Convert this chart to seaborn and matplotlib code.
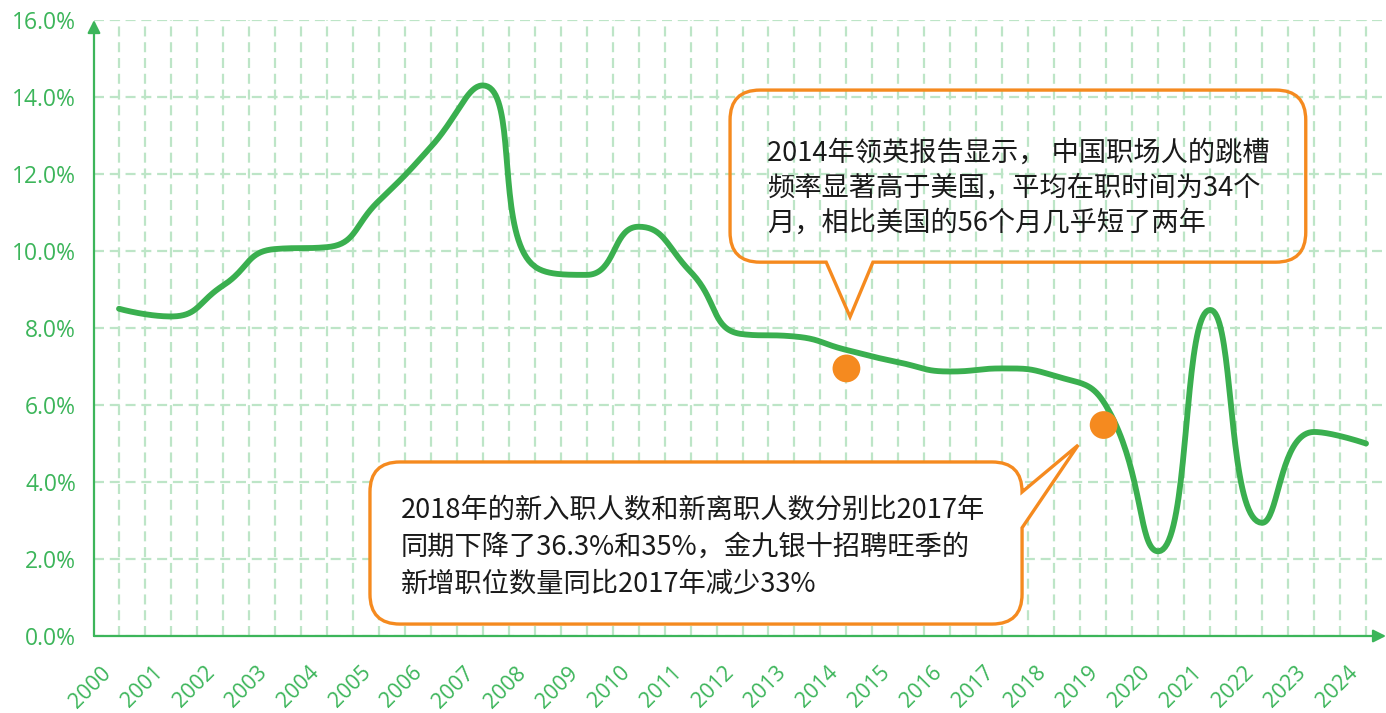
import numpy as np
import pandas as pd
import matplotlib
matplotlib.use("Agg")
import matplotlib.pyplot as plt
from matplotlib.path import Path
from matplotlib.patches import PathPatch
from matplotlib.transforms import ScaledTranslation
from matplotlib.ticker import FixedLocator
import seaborn as sns

# ---- data -------------------------------------------------------------
years = list(range(2000, 2025))
turnover_rate = [8.5, 8.3, 9.1, 10.05, 10.1, 11.3, 12.7, 14.3, 9.6, 9.38,
                 10.63, 9.46, 7.84, 7.78, 7.43, 7.11, 6.87, 6.95, 6.76, 5.97,
                 2.2, 8.47, 2.94, 5.3, 5.0]
highlight_x = [2014.0, 2018.95]
highlight_y = [6.95, 5.48]
y_ticks = [0, 2, 4, 6, 8, 10, 12, 14, 16]
y_tick_labels = ["0.0%", "2.0%", "4.0%", "6.0%", "8.0%", "10.0%", "12.0%", "14.0%", "16.0%"]

note_2014 = ["2014年领英报告显示， 中国职场人的跳槽",
             "频率显著高于美国，平均在职时间为34个",
             "月，相比美国的56个月几乎短了两年"]
note_2018 = ["2018年的新入职人数和新离职人数分别比2017年",
             "同期下降了36.3%和35%，金九银十招聘旺季的",
             "新增职位数量同比2017年减少33%"]

# ---- style ------------------------------------------------------------
GREEN_AXIS = "#3cb55a"
GREEN_LINE = "#3aaf4f"
GRID = "#bde5c7"
ORANGE = "#f58a1f"
TEXT = "#1a1a1a"

sns.set_theme(style="white")
plt.rcParams["font.family"] = ["Open Sans", "Noto Sans CJK SC", "DejaVu Sans"]
CJK = ["Noto Sans CJK SC", "DejaVu Sans"]

W, H = 1386, 713
fig = plt.figure(figsize=(W / 100, H / 100), dpi=100)
ax = fig.add_axes([94 / W, 77 / H, (1385 - 94) / W, 616 / H])
ax.set_xlim(1999.519, 2000 + (1385 - 119) / 51.96)
ax.set_ylim(0, 16)
for s in ax.spines.values():
    s.set_visible(False)

# grid: half-year vertical lines, 2% horizontal lines
ax.xaxis.set_major_locator(FixedLocator(years))
ax.xaxis.set_minor_locator(FixedLocator([y + 0.5 for y in years[:-1]]))
ax.set_yticks(y_ticks)
ax.set_yticklabels(y_tick_labels)
ax.set_xticklabels([str(y) for y in years])
grid_kw = dict(color=GRID, linewidth=1.6, linestyle=(0, (4.5, 2.6)))
ax.grid(True, which="both", axis="x", **grid_kw)
ax.grid(True, which="major", axis="y", **grid_kw)
ax.set_axisbelow(True)

ax.tick_params(axis="both", which="both", length=0)
ax.tick_params(axis="y", pad=13, labelsize=16.5, labelcolor=GREEN_AXIS)
ax.tick_params(axis="x", pad=19, labelsize=15.5, labelcolor=GREEN_AXIS)
shift = ScaledTranslation(-4 / 100, 0, fig.dpi_scale_trans)
for lab in ax.get_xticklabels():
    lab.set_rotation(45)
    lab.set_ha("right")
    lab.set_va("top")
    lab.set_transform(lab.get_transform() + shift)

# axis lines with arrow heads
arrow_kw = dict(arrowstyle="-|>", color=GREEN_AXIS, lw=1.6, mutation_scale=19,
                shrinkA=0, shrinkB=0)
ax.annotate("", xy=(0, 1), xytext=(0, 0), xycoords="axes fraction",
            arrowprops=arrow_kw, annotation_clip=False)
ax.annotate("", xy=(1.0008, 0), xytext=(0, 0), xycoords="axes fraction",
            arrowprops=arrow_kw, annotation_clip=False)

# ---- smoothed line: bezier smoothing with control points clamped ----------
# between neighbouring points (no overshoot), computed in display space
pts = ax.transData.transform(np.column_stack([years, turnover_rate]))
smooth = 0.5
n = len(pts)
segments = []
cp0 = pts[0].copy()
for k in range(1, n):
    prev, cur = pts[k - 1], pts[k]
    if k == n - 1:
        cp1 = cur.copy()
        next_cp0 = cur.copy()
    else:
        nxt = pts[k + 1]
        v = nxt - prev
        len_prev = np.hypot(*(cur - prev))
        len_next = np.hypot(*(nxt - cur))
        ratio = len_next / (len_next + len_prev)
        next_cp0 = cur + v * smooth * ratio
        next_cp0 = np.minimum(next_cp0, np.maximum(nxt, cur))
        next_cp0 = np.maximum(next_cp0, np.minimum(nxt, cur))
        v = next_cp0 - cur
        cp1 = cur - v * len_prev / len_next
        cp1 = np.minimum(cp1, np.maximum(prev, cur))
        cp1 = np.maximum(cp1, np.minimum(prev, cur))
        v = cur - cp1
        next_cp0 = cur + v * len_next / len_prev
    segments.append((prev, cp0, cp1, cur))
    cp0 = next_cp0

t = np.linspace(0, 1, 40)[:, None]
curve = []
for i, (p0, p1, p2, p3) in enumerate(segments):
    seg = ((1 - t) ** 3) * p0 + 3 * ((1 - t) ** 2) * t * p1 + 3 * (1 - t) * t ** 2 * p2 + t ** 3 * p3
    curve.append(seg if i == 0 else seg[1:])
curve = ax.transData.inverted().transform(np.vstack(curve))
df_curve = pd.DataFrame({"year": curve[:, 0], "rate": curve[:, 1]})
sns.lineplot(data=df_curve, x="year", y="rate", sort=False, estimator=None,
             color=GREEN_LINE, linewidth=4.2, ax=ax, zorder=3)
ax.set_xlabel("")
ax.set_ylabel("")

# highlighted points
sns.scatterplot(x=highlight_x, y=highlight_y, color=ORANGE, s=400,
                edgecolor="none", ax=ax, zorder=5)


# ---- speech bubbles -------------------------------------------------------
def bubble(x0, x1, y0, y1, rx, ry, tail_side, tail):
    """Rounded rectangle with a pointer on the bottom or right edge."""
    v, c = [], []

    def mv(p):
        v.append(p); c.append(Path.MOVETO)

    def ln(p):
        v.append(p); c.append(Path.LINETO)

    def q(ctrl, p):
        v.extend([ctrl, p]); c.extend([Path.CURVE3, Path.CURVE3])

    mv((x0 + rx, y1))
    ln((x1 - rx, y1))
    q((x1, y1), (x1, y1 - ry))
    if tail_side == "right":
        a, tip, b = tail
        ln((x1, a)); ln(tip); ln((x1, b))
    ln((x1, y0 + ry))
    q((x1, y0), (x1 - rx, y0))
    if tail_side == "bottom":
        a, tip, b = tail
        ln((a, y0)); ln(tip); ln((b, y0))
    ln((x0 + rx, y0))
    q((x0, y0), (x0, y0 + ry))
    ln((x0, y1 - ry))
    q((x0, y1), (x0 + rx, y1))
    v.append((x0 + rx, y1)); c.append(Path.CLOSEPOLY)
    return Path(v, c)


rx, ry = 30 / 51.96, 30 / 38.5
b1 = bubble(2011.76, 2022.84, 9.71, 14.18, rx, ry, "bottom",
            (2014.51, (2014.07, 8.29), 2013.61))
ax.add_patch(PathPatch(b1, facecolor="none", edgecolor=ORANGE, lw=2.4,
                       joinstyle="miter", zorder=4))
b2 = bubble(2004.83, 2017.38, 0.31, 4.52, rx, ry, "right",
            (3.74, (2018.46, 4.96), 2.81))
ax.add_patch(PathPatch(b2, facecolor="white", edgecolor=ORANGE, lw=2.4,
                       joinstyle="miter", zorder=4))

to_data = ax.transData.inverted()
for lines, x_px, y_px, step in [(note_2014, 767, 153, 35), (note_2018, 401, 510, 37)]:
    for k, line in enumerate(lines):
        xd, yd = to_data.transform((x_px, H - (y_px + k * step)))
        ax.text(xd, yd, line, family=CJK, fontsize=19.6, color=TEXT,
                ha="left", va="center", zorder=6)

fig.savefig("out.png", dpi=100)
